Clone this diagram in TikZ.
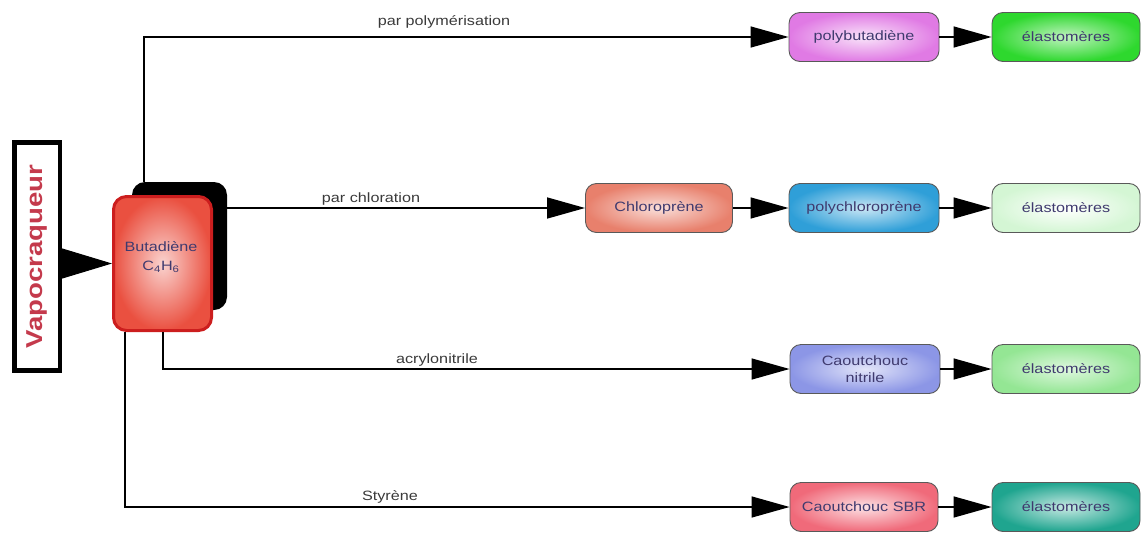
\documentclass[tikz,border=0pt]{standalone}
\usepackage{fontspec}
\setmainfont[FakeStretch=1.2]{Liberation Sans}
\usetikzlibrary{arrows.meta}
\definecolor{txtc}{HTML}{3F3A6E}
\definecolor{lblc}{HTML}{3A3A3A}
\definecolor{vapc}{HTML}{C43A4C}
\definecolor{polyc}{HTML}{E07AE4}
\definecolor{greena}{HTML}{2ED82E}
\definecolor{chlorc}{HTML}{E8806C}
\definecolor{bluec}{HTML}{2F9FD8}
\definecolor{lightg}{HTML}{D4F6D4}
\definecolor{nitrc}{HTML}{8C96E6}
\definecolor{greenc}{HTML}{94E694}
\definecolor{sbrc}{HTML}{F06A7A}
\definecolor{tealc}{HTML}{1FA58F}
\definecolor{butac}{HTML}{EA5040}
\definecolor{butab}{HTML}{CC1E1E}
\begin{document}
\begin{tikzpicture}[x=1pt,y=-1pt,
  box/.style={draw=black!65, line width=0.9pt, rounded corners=11pt,
    minimum width=150pt, minimum height=49pt, inner sep=2pt, align=center,
    text=txtc, font=\fontsize{13.5}{17}\selectfont},
  elbox/.style={box, minimum width=148pt},
  arr/.style={draw=black, line width=1.5pt, -{Triangle[length=38pt,width=21pt]}},
  lbl/.style={text=lblc, font=\fontsize{13.5}{15}\selectfont, inner sep=0pt, anchor=base},
]
\useasboundingbox (0,0) rectangle (1143,533);

% Vapocraqueur
\node[draw=black, line width=4.5pt, rotate=90, minimum width=228pt, minimum height=45.5pt,
  inner sep=0pt, text=vapc, font=\bfseries\fontsize{23}{23}\selectfont] (vapo) at (37,256.5) {Vapocraqueur};

% Butadiene with shadow
\node[fill=black, rounded corners=13pt, minimum width=95pt, minimum height=128pt, inner sep=0pt] (shad) at (179.5,246) {};
\node[draw=butab, line width=3pt, rounded corners=13pt, inner color=butac!25!white, outer color=butac,
  minimum width=98pt, minimum height=134pt, inner sep=0pt] (buta) at (162.5,263.5) {};
\node[text=txtc, align=center, font=\fontsize{13.5}{19}\selectfont, inner sep=0pt] (butatxt) at (161,257)
  {Butadiène\\C\textsubscript{4}H\textsubscript{6}};

% right-hand nodes
\node[box, inner color=polyc!20!white, outer color=polyc] (polyb) at (864,37) {polybutadiène};
\node[elbox, inner color=greena!30!white, outer color=greena] (el1) at (1066,37) {élastomères};

\node[box, minimum width=147pt, inner color=chlorc!25!white, outer color=chlorc] (chlor) at (659,208) {Chloroprène};
\node[box, inner color=bluec!25!white, outer color=bluec] (polych) at (864,208) {polychloroprène};
\node[elbox, inner color=white, outer color=lightg] (el2) at (1066,208) {élastomères};

\node[box, inner color=nitrc!25!white, outer color=nitrc] (nitr) at (865,369) {Caoutchouc\\nitrile};
\node[elbox, inner color=greenc!30!white, outer color=greenc] (el3) at (1066,369) {élastomères};

\node[box, minimum width=148pt, inner color=sbrc!20!white, outer color=sbrc] (sbr) at (864,507) {Caoutchouc SBR};
\node[elbox, inner color=tealc!25!white, outer color=tealc] (el4) at (1066,507) {élastomères};

% connectors
\draw[draw=black, line width=1pt, -{Triangle[length=50pt,width=30pt]}] (vapo.south |- buta.west) -- (buta.west);
\draw[arr] ([xshift=12pt]shad.north west) |- (polyb);
\draw[arr] (shad.east |- chlor.west) -- (chlor);
\draw[arr] ([xshift=51pt]buta.south west) |- (nitr);
\draw[arr] ([xshift=13pt]buta.south west) |- (sbr);
\draw[arr] (polyb) -- (el1);
\draw[arr] (chlor) -- (polych);
\draw[arr] (polych) -- (el2);
\draw[arr] (nitr) -- (el3);
\draw[arr] (sbr) -- (el4);

% labels
\node[lbl] (l1) at (444,25) {par polymérisation};
\node[lbl] (l2) at (371,202) {par chloration};
\node[lbl] (l3) at (437,363) {acrylonitrile};
\node[lbl] (l4) at (390,500) {Styrène};
\end{tikzpicture}
\end{document}
